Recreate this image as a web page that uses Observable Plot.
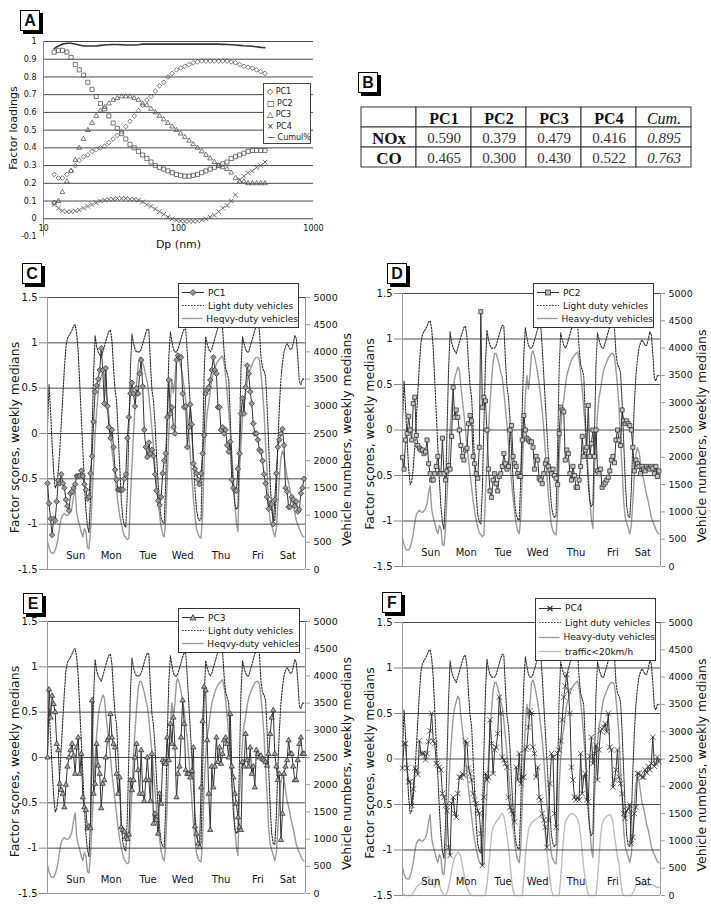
<!DOCTYPE html>
<html><head><meta charset="utf-8">
<script src="https://cdn.jsdelivr.net/npm/d3@7"></script>
<script src="https://cdn.jsdelivr.net/npm/@observablehq/plot@0.6"></script>
<style>
body{margin:0;background:#fff;}
#page{position:relative;width:711px;height:906px;overflow:hidden;font-family:"DejaVu Sans",sans-serif;color:#111;background:#fff;}
.tag{position:absolute;width:18px;height:19px;border:1px solid #000;box-shadow:3px 3px 0 #000;background:#fff;font:bold 16px "Liberation Sans Narrow","Liberation Sans",sans-serif;text-align:center;line-height:19px;}
.legend{position:absolute;background:#fff;border:1px solid #333;font-size:9px;color:#111;box-sizing:border-box;padding-top:2px;}
.legend .row{display:flex;align-items:center;height:13px;white-space:nowrap;}
.legend svg{margin:0 3px 0 2px;}
.legA{position:absolute;background:#fff;border:1px solid #444;font-size:8px;box-sizing:border-box;padding:2px 0 0 3px;}
.legA div{height:11.5px;line-height:11.5px;white-space:nowrap;color:#222;}
</style></head><body><div id="page"></div>
<script>
// ---------------- Panel A data ----------------
const dp = [12.0,12.9,13.8,14.9,16.0,17.2,18.4,19.8,21.3,22.9,24.6,26.4,28.4,30.5,32.8,35.2,37.9,40.7,43.7,47.0,50.5,54.2,58.3,62.6,67.3,72.3,77.7,83.5,89.8,96.5,103.7,111.4,119.7,128.6,138.2,148.6,159.6,171.5,184.3,198.1,212.9,228.8,245.8,264.2,283.9,305.1,327.8,352.3,378.6,406.8,437.1];
const loadPC1 = [0.25,0.23,0.23,0.25,0.27,0.30,0.33,0.35,0.36,0.38,0.39,0.40,0.41,0.43,0.45,0.47,0.49,0.52,0.55,0.58,0.61,0.64,0.67,0.69,0.72,0.75,0.77,0.80,0.82,0.84,0.85,0.86,0.87,0.88,0.885,0.89,0.89,0.89,0.89,0.89,0.89,0.89,0.885,0.88,0.87,0.86,0.855,0.85,0.84,0.83,0.82];
const loadPC2 = [0.94,0.95,0.95,0.94,0.91,0.87,0.84,0.81,0.77,0.73,0.69,0.65,0.62,0.58,0.54,0.51,0.48,0.45,0.42,0.40,0.38,0.36,0.34,0.32,0.30,0.29,0.28,0.27,0.26,0.25,0.245,0.24,0.24,0.245,0.25,0.26,0.27,0.28,0.29,0.30,0.31,0.32,0.34,0.35,0.36,0.37,0.38,0.385,0.385,0.385,0.385];
const loadPC3 = [0.09,0.10,0.15,0.21,0.27,0.33,0.40,0.45,0.50,0.54,0.58,0.61,0.63,0.65,0.67,0.68,0.69,0.69,0.69,0.68,0.67,0.65,0.64,0.62,0.60,0.58,0.56,0.54,0.52,0.50,0.48,0.46,0.44,0.42,0.40,0.38,0.36,0.34,0.32,0.30,0.29,0.28,0.26,0.23,0.21,0.21,0.20,0.20,0.20,0.20,0.20];
const loadPC4 = [0.08,0.06,0.045,0.04,0.04,0.045,0.05,0.06,0.07,0.08,0.09,0.10,0.105,0.11,0.11,0.115,0.115,0.115,0.11,0.11,0.105,0.095,0.08,0.07,0.055,0.04,0.025,0.01,0.0,-0.008,-0.012,-0.015,-0.015,-0.015,-0.012,-0.008,0.0,0.01,0.02,0.04,0.06,0.075,0.10,0.135,0.22,0.24,0.26,0.27,0.29,0.30,0.32];
const loadCum = [0.96,0.975,0.985,0.99,0.99,0.985,0.98,0.975,0.975,0.975,0.975,0.978,0.98,0.982,0.983,0.983,0.982,0.98,0.98,0.98,0.982,0.985,0.985,0.985,0.985,0.985,0.985,0.985,0.985,0.985,0.985,0.985,0.985,0.985,0.985,0.985,0.985,0.985,0.985,0.985,0.984,0.983,0.982,0.98,0.978,0.976,0.975,0.973,0.97,0.967,0.965];
const loadTicks = [-0.1,0,0.1,0.2,0.3,0.4,0.5,0.6,0.7,0.8,0.9,1];
const loadGrid = [0,0.1,0.2,0.3,0.4,0.5,0.6,0.7,0.8,0.9,1];
const dpTicks = [10,100,1000];

// ---------------- Panel B data ----------------
const tblCols = ["PC1","PC2","PC3","PC4","Cum."];
const tblRows = ["NOx","CO"];
const noxVals = [0.590,0.379,0.479,0.416,0.895];
const coVals  = [0.465,0.300,0.430,0.522,0.763];

// ---------------- Weekly series (hourly) ----------------
const ldv = [2600,3400,2900,2300,1800,1500,1550,1800,2200,2700,
3200,3700,4100,4250,4300,4350,4400,4480,4500,4350,
4000,3400,2800,2200,1600,1100,800,680,1300,2500,
3600,4300,4100,4000,3950,3900,4000,4100,4200,4300,
4380,4400,4200,3700,3300,3100,2500,1900,1300,950,
820,780,1400,2600,3700,4330,4150,4050,4000,4000,
4000,4050,4150,4250,4350,4420,4400,3800,3300,3100,
2700,2100,1600,1200,950,870,850,1600,2900,3900,
4370,4200,4050,4000,4000,4050,4150,4250,4350,4420,
4420,4000,3500,3000,2500,2000,1500,1100,950,900,
930,2200,3600,4280,4150,4050,4000,4050,4150,4250,
4350,4450,4500,4520,4450,4000,3700,3600,3500,2800,
2000,1500,1200,1100,1150,2400,3700,4280,4150,4050,
4000,4000,4100,4200,4300,4400,4470,4500,4400,3900,
3700,3650,3550,3000,2300,1600,1100,920,900,1400,
2300,3000,3500,3800,4000,4100,4150,4100,4050,4050,
4150,4300,4250,3900,3450,3400,3500,3500];
const hdv = [520,400,320,300,300,350,450,600,800,950,
1000,1030,1000,990,1020,1060,1150,1350,1480,1050,
900,800,680,600,750,700,400,380,700,1300,
1900,2500,2900,3250,3450,3550,3650,3600,3300,3050,
2800,2500,2200,1950,1700,1450,1200,1000,850,720,
620,580,550,570,1300,1900,2500,3000,3400,3750,
3900,3900,3800,3700,3550,3450,3200,2900,2600,2250,
1900,1550,1250,1000,780,650,600,900,1700,2500,
3100,3500,3250,3500,3900,3950,3850,3700,3550,3350,
3100,2850,2500,2100,1700,1300,1000,750,650,600,
580,1000,2000,2500,2900,3050,3300,3500,3600,3700,
3780,3830,3870,3900,3930,3800,3550,3250,2900,2550,
2100,1700,1200,850,700,1800,2300,2800,3100,3250,
3450,3600,3680,3750,3820,3870,3900,3900,3850,3600,
3300,2900,2300,1800,1200,900,800,700,600,750,
1200,1700,2050,2180,2100,1900,1700,1600,1450,1300,
1200,1050,900,820,750,680,620,600];
const slow = [30,20,0,0,0,0,0,50,100,150,
180,200,220,250,280,300,320,350,300,250,
200,150,250,300,200,100,50,0,0,50,
150,300,450,600,700,750,800,780,700,550,
400,250,150,80,30,0,0,0,0,0,
0,0,0,0,0,200,500,800,1100,1250,
1300,1350,1380,1420,1480,1500,1450,1300,1100,900,
600,300,100,0,0,0,0,0,0,300,
700,1000,1200,1280,1330,1350,1380,1400,1420,1440,
1450,1480,1400,1100,800,580,300,100,0,0,
0,0,0,300,700,1100,1350,1400,1450,1480,
1500,1500,1480,1450,1400,1300,1100,800,500,300,
150,0,0,0,0,0,0,300,700,1100,
1300,1380,1420,1450,1470,1480,1450,1350,1100,900,
700,580,300,50,0,0,0,0,0,0,
50,120,180,200,200,220,200,190,210,200,
180,200,210,190,180,160,150,150];
const pc1 = [-0.55,-0.77,-0.94,-1.12,-0.94,-0.96,-0.75,-0.52,-0.55,-0.45,
-0.55,-0.60,-0.73,-0.80,-0.85,-0.66,-0.64,-0.60,-0.56,-0.47,
-0.47,-0.47,-0.41,-0.47,-0.56,-0.62,-0.72,-0.70,-0.44,-0.25,
0.13,0.46,0.53,0.60,0.70,0.94,0.70,0.33,0.72,0.30,
0.07,-0.05,0.04,-0.15,-0.40,-0.51,-0.62,-0.62,-0.62,-0.62,
-0.50,-0.45,-0.05,0.18,0.44,0.56,0.44,0.30,0.50,0.44,
0.66,0.81,0.52,0.04,-0.15,-0.26,-0.10,-0.22,-0.18,-0.25,
-0.45,-0.63,-0.74,-0.79,-0.70,-0.44,-0.30,-0.22,0.18,0.59,
0.22,0.29,0.07,0.00,0.81,0.86,0.84,0.84,0.44,0.29,
0.30,-0.15,0.07,0.32,0.10,-0.33,-0.39,-0.44,-0.51,-0.56,
-0.44,-0.22,-0.02,0.44,0.48,0.51,0.59,0.70,0.84,0.70,
0.66,0.29,0.29,0.04,0.07,0.00,0.04,-0.13,-0.20,-0.09,
-0.51,-0.60,-0.63,-0.63,-0.39,-0.22,0.22,0.39,0.22,0.51,
0.75,0.66,0.46,0.33,0.11,0.00,0.00,-0.07,-0.18,-0.20,
-0.30,-0.45,-0.55,-0.70,-0.83,-0.77,-0.78,-1.00,-0.73,-0.44,
-0.15,-0.07,0.00,0.05,-0.13,-0.60,-0.64,-0.81,-0.81,-0.70,
-0.73,-0.80,-0.75,-0.86,-0.84,-0.66,-0.60,-0.50];
const pc2 = [-0.30,-0.43,-0.11,-0.04,0.15,0.00,-0.11,0.29,0.36,-0.06,
-0.17,-0.20,-0.22,-0.22,-0.26,-0.24,-0.11,-0.37,-0.48,-0.55,
-0.55,-0.48,-0.40,-0.29,-0.48,-0.48,-0.09,-0.48,-0.55,-0.45,
-0.39,-0.43,-0.07,0.47,0.14,0.22,0.14,0.00,-0.17,-0.29,
-0.33,-0.22,-0.20,0.07,0.16,0.10,-0.29,-0.37,-0.48,-0.53,
-0.19,1.30,0.25,0.36,0.32,0.00,-0.43,-0.67,-0.74,-0.55,
-0.48,-0.59,-0.67,-0.51,-0.48,-0.40,-0.26,-0.37,-0.43,-0.40,
0.00,0.05,-0.29,-0.37,-0.40,-0.48,-0.51,-0.51,-0.11,0.16,
0.00,-0.09,-0.11,-0.13,-0.13,-0.19,-0.43,-0.29,-0.33,-0.53,
-0.55,-0.59,-0.48,-0.37,-0.33,-0.40,-0.44,-0.48,-0.43,-0.50,
-0.53,-0.60,-0.04,0.25,0.22,0.20,-0.33,-0.22,-0.26,-0.48,
-0.55,-0.40,-0.50,-0.63,-0.63,-0.55,-0.40,-0.07,-0.29,-0.22,
-0.19,0.27,-0.29,-0.15,0.00,-0.29,0.00,-0.45,-0.48,-0.43,
-0.63,-0.60,-0.58,-0.55,-0.52,-0.45,-0.33,-0.29,-0.36,-0.11,
0.00,-0.11,-0.17,0.22,0.10,0.07,0.10,0.07,0.05,0.00,
-0.19,-0.45,-0.33,-0.37,-0.40,-0.48,-0.40,-0.43,-0.45,-0.40,
-0.42,-0.43,-0.40,-0.42,-0.48,-0.40,-0.51,-0.45];
const pc3 = [0.00,0.75,0.44,0.68,0.59,0.50,0.15,0.08,-0.29,-0.36,
-0.40,-0.55,-0.30,-0.10,0.00,0.08,0.15,0.02,-0.18,0.11,
0.22,-0.18,0.04,-0.44,-0.55,-0.58,-0.78,-0.76,-0.78,0.63,
-0.40,-0.29,0.15,-0.09,-0.18,-0.56,-0.29,-0.25,0.00,0.19,
0.22,0.48,0.22,0.15,0.11,-0.18,-0.40,-0.22,-0.77,-0.80,
-0.82,-0.88,-0.90,-0.85,-0.25,-0.36,-0.25,0.00,0.15,-0.14,
-0.40,0.08,-0.40,-0.48,-0.25,0.00,-0.25,-0.48,0.04,-0.73,
-0.62,-0.69,-0.84,-0.40,-0.51,-0.03,-0.05,-0.07,0.22,-0.03,
0.37,0.15,0.44,0.11,-0.44,-0.18,-0.10,0.22,0.63,0.37,
-0.14,-0.18,-0.18,-0.22,-0.15,0.11,-0.76,-0.84,-0.95,-0.99,
-0.33,0.40,0.78,0.74,0.19,-0.40,-0.80,-0.10,-0.33,-0.10,
0.22,-0.05,0.11,-0.07,0.04,0.19,0.22,0.15,0.00,0.48,
-0.10,-0.22,-0.40,-0.51,-0.66,-0.77,-0.80,-0.05,-0.10,0.26,
-0.03,-0.10,0.11,-0.18,-0.10,-0.33,0.08,0.04,0.00,0.02,
-0.02,-0.03,-0.05,-0.09,0.04,0.26,0.44,0.52,0.04,-0.10,
-0.25,-0.18,-0.91,-0.62,-0.18,-0.10,-0.03,0.19,0.04,0.04,
-0.10,-0.25,-0.25,-0.03,0.15,0.22,0.04,0.04];
const pc4 = [-0.10,0.17,0.17,-0.10,-0.25,-0.25,-0.51,-0.33,-0.10,-0.12,
-0.17,0.20,0.06,0.06,0.06,-0.01,0.06,0.19,0.31,0.50,
0.20,0.17,-0.05,-0.07,-0.09,-0.12,-0.38,-0.42,-0.51,-0.57,
-0.97,-1.06,-0.49,-0.42,-0.60,-0.64,-0.38,-0.20,-0.20,-0.16,
-0.18,0.20,0.17,-0.10,-0.16,-0.23,-0.38,-0.45,-0.49,-0.57,
-0.60,-0.82,-1.17,-0.42,-0.16,-0.23,-0.20,0.43,0.17,-0.16,
0.10,0.13,0.28,0.68,0.50,0.02,-0.01,-0.05,-0.09,-0.42,
-0.53,-0.57,-0.60,-0.69,-0.09,-0.23,0.06,-0.27,-0.20,-0.20,
0.11,0.13,0.35,0.53,0.50,0.13,0.06,-0.20,-0.09,-0.42,
-0.45,-0.60,-0.67,-0.75,-0.97,-0.67,-0.27,0.06,0.02,-0.60,
-0.75,0.06,0.10,0.20,0.43,0.68,0.80,0.93,0.75,0.50,
-0.09,-0.23,-0.42,-0.45,-0.42,-0.45,0.06,-0.38,-0.20,-0.16,
-0.45,-0.47,0.03,0.24,-0.05,0.06,0.15,-0.23,0.10,0.31,
0.33,0.35,0.39,0.30,0.50,0.13,0.10,-0.31,-0.23,-0.12,
0.10,-0.20,-0.27,-0.38,-0.60,-0.65,-0.57,-0.55,-0.50,-0.93,
-0.86,-0.60,-0.53,-0.16,-0.16,-0.18,-0.20,-0.20,-0.12,-0.15,
-0.08,-0.12,-0.05,0.24,-0.08,-0.05,0.02,-0.03];
const hours = d3.range(168);
const factorTicks = [-1.5,-1,-0.5,0,0.5,1,1.5];
const factorGrid = [-1,-0.5,0,0.5,1,1.5];
const vehTicks = [0,500,1000,1500,2000,2500,3000,3500,4000,4500,5000];
const dayNames = ["Sun","Mon","Tue","Wed","Thu","Fri","Sat"];
const dayPos = [18.4,41.5,65.5,88,113,137,156.5];

// ---------------- helpers ----------------
const page = document.getElementById("page");
function place(el, left, top, w) {
  const d = document.createElement("div");
  d.style.cssText = `position:absolute;left:${left}px;top:${top}px;width:${w}px;`;
  d.appendChild(el); page.appendChild(d); return d;
}
function tag(letter, left, top) {
  const d = document.createElement("div"); d.className = "tag";
  d.style.left = left + "px"; d.style.top = top + "px"; d.textContent = letter; page.appendChild(d);
}
const baseStyle = {fontFamily: "DejaVu Sans", fontSize: "10px", background: "transparent", overflow: "visible", color: "#111"};

// ---------------- Panel A ----------------
const plotA = Plot.plot({
  width: 330, height: 250, marginLeft: 43, marginRight: 17, marginTop: 41, marginBottom: 14,
  x: {type: "log", domain: [10, 1000]},
  y: {domain: [-0.1, 1]},
  style: baseStyle,
  marks: [
    Plot.ruleY(loadGrid, {stroke: "#333", strokeWidth: 0.9}),
    Plot.ruleX([10], {stroke: "#888"}),
    Plot.axisY({ticks: loadTicks, tickSize: 0, tickPadding: 7, tickFormat: d => String(d), label: null, fontSize: 8}),
    Plot.axisX({ticks: dpTicks, tickSize: 0, tickPadding: -11, tickFormat: d => String(d), label: null, fontSize: 8}),
    Plot.text(["Factor loadings"], {frameAnchor: "left", text: d => d, rotate: -90, dx: -30, dy: -11, textAnchor: "middle", lineAnchor: "middle", fontSize: 11}),
    Plot.text(["Dp (nm)"], {frameAnchor: "bottom", text: d => d, dy: 8, lineAnchor: "middle", textAnchor: "middle", fontSize: 11}),
    Plot.line(dp, {x: dp, y: loadCum, stroke: "#333", strokeWidth: 1.6}),
    Plot.dot(dp, {x: dp, y: loadPC1, symbol: "diamond2", r: 2.1, stroke: "#555", strokeWidth: 0.8}),
    Plot.dot(dp, {x: dp, y: loadPC2, symbol: "square2", r: 2.6, stroke: "#555", strokeWidth: 0.8}),
    Plot.dot(dp, {x: dp, y: loadPC3, symbol: "triangle2", r: 2.3, stroke: "#555", strokeWidth: 0.8}),
    Plot.dot(dp, {x: dp, y: loadPC4, symbol: "times", r: 2.2, stroke: "#444", strokeWidth: 0.8})
  ]
});
place(plotA, 0, 0, 330);
const legA = document.createElement("div"); legA.className = "legA";
legA.style.cssText += "left:263px;top:83px;width:48px;height:61px;";
legA.innerHTML = ["◇ PC1","□ PC2","△ PC3","× PC4","— Cumul%"].map(t => `<div>${t}</div>`).join("");
page.appendChild(legA);
tag("A", 20, 10);

// ---------------- Panel B (table) ----------------
const cells = [{c: "_", r: "head", t: ""}];
tblCols.forEach(c => cells.push({c, r: "head", t: c, k: c === "Cum." ? "hi" : "hb"}));
tblRows.forEach((r, ri) => {
  cells.push({c: "_", r, t: r, k: "rb"});
  const vals = ri === 0 ? noxVals : coVals;
  tblCols.forEach((c, ci) => cells.push({c, r, t: d3.format(".3f")(vals[ci]), k: c === "Cum." ? "vi" : "v"}));
});
const plotB = Plot.plot({
  width: 345, height: 68, marginLeft: 4, marginRight: 7, marginTop: 3, marginBottom: 5,
  x: {type: "band", domain: ["_", ...tblCols], padding: 0, axis: null},
  y: {type: "band", domain: ["head", ...tblRows], padding: 0, axis: null},
  style: {...baseStyle, fontFamily: "Liberation Serif"},
  marks: [
    Plot.cell(cells, {x: "c", y: "r", fill: "white", stroke: "#333", inset: 0}),
    Plot.text(cells.filter(d => d.k === "hb"), {x: "c", y: "r", text: "t", fontWeight: "bold", fontSize: 16, dy: 1}),
    Plot.text(cells.filter(d => d.k === "hi"), {x: "c", y: "r", text: "t", fontStyle: "italic", fontSize: 16, dy: 1}),
    Plot.text(cells.filter(d => d.k === "rb"), {x: "c", y: "r", text: "t", fontWeight: "bold", fontSize: 17, dy: 1}),
    Plot.text(cells.filter(d => d.k === "v"), {x: "c", y: "r", text: "t", fontSize: 15, fill: "#333", dy: 1}),
    Plot.text(cells.filter(d => d.k === "vi"), {x: "c", y: "r", text: "t", fontSize: 15, fontStyle: "italic", fill: "#333", dy: 1})
  ]
});
place(plotB, 355, 104, 345);
tag("B", 358, 72);

// ---------------- Panels C-F ----------------
function swatch(kind, sym) {
  let s = `<svg width="24" height="9" viewBox="0 0 24 9">`;
  if (kind === "pc") {
    s += `<line x1="1" y1="4.5" x2="23" y2="4.5" stroke="#333" stroke-width="1"/>`;
    if (sym === "diamond2") s += `<polygon points="12,1.5 15,4.5 12,7.5 9,4.5" fill="#999" stroke="#333" stroke-width="0.8"/>`;
    if (sym === "square2") s += `<rect x="9.5" y="2" width="5" height="5" fill="#bbb" stroke="#333" stroke-width="0.8"/>`;
    if (sym === "triangle2") s += `<polygon points="12,1.5 15,7 9,7" fill="#aaa" stroke="#333" stroke-width="0.8"/>`;
    if (sym === "times") s += `<path d="M9.5,2 L14.5,7 M14.5,2 L9.5,7" stroke="#333" stroke-width="1.1"/>`;
  } else if (kind === "dot") {
    s += `<line x1="1" y1="4.5" x2="23" y2="4.5" stroke="#333" stroke-width="1" stroke-dasharray="1.6,1.4"/>`;
  } else {
    s += `<line x1="1" y1="4.5" x2="23" y2="4.5" stroke="${kind}" stroke-width="1.4"/>`;
  }
  return s + `</svg>`;
}

function panel(cfg) {
  const {left, top, w, mR, mB, pc, sym, fill, r, heavyLabel, traffic, leg} = cfg;
  const common = {width: w, height: 295, marginLeft: 47, marginRight: mR, marginTop: 12, marginBottom: mB,
                  x: {domain: [0, 168], axis: null}, style: baseStyle};
  const veh = Plot.plot({
    ...common,
    y: {domain: [0, 5000]},
    marks: [
      traffic ? Plot.line(hours, {x: hours, y: slow, stroke: "#bdbdbd", strokeWidth: 1.4}) : null,
      Plot.line(hours, {x: hours, y: hdv, stroke: "#9a9a9a", strokeWidth: 1.4}),
      Plot.line(hours, {x: hours, y: ldv, stroke: "#2a2a2a", strokeWidth: 1.1, strokeDasharray: "1.6,1.4"}),
      Plot.ruleX([168], {stroke: "#999"}),
      Plot.axisY({anchor: "right", ticks: vehTicks, tickSize: 4, tickPadding: 4, tickFormat: d => String(d), label: null, stroke: "#999", fontSize: 9.5}),
      Plot.text(["Vehicle numbers, weekly medians"], {frameAnchor: "right", text: d => d, rotate: -90, dx: 41, dy: 6, textAnchor: "middle", lineAnchor: "middle", fontSize: 12.5})
    ]
  });
  const fac = Plot.plot({
    ...common,
    y: {domain: [-1.5, 1.5]},
    marks: [
      Plot.ruleY(factorGrid, {stroke: "#333", strokeWidth: 0.9}),
      Plot.ruleY([-1.5], {stroke: "#999"}),
      Plot.ruleX([0], {stroke: "#999"}),
      Plot.axisY({ticks: factorTicks, tickSize: 8, tickPadding: 2, tickFormat: d => String(d), label: null, stroke: "#888", fontSize: 10}),
      Plot.text(["Factor scores, weekly medians"], {frameAnchor: "left", text: d => d, rotate: -90, dx: -33, dy: 4, textAnchor: "middle", lineAnchor: "middle", fontSize: 12.5}),
      Plot.text(dayNames, {x: dayPos, text: d => d, frameAnchor: "bottom", dy: -14, lineAnchor: "middle", textAnchor: "middle", fontSize: 10}),
      Plot.line(hours, {x: hours, y: pc, stroke: "#333", strokeWidth: 1}),
      Plot.dot(hours, {x: hours, y: pc, symbol: sym, r, fill, stroke: "#333", strokeWidth: 0.8})
    ]
  });
  place(veh, left, top, w);
  place(fac, left, top, w);
  const lg = document.createElement("div"); lg.className = "legend";
  lg.style.cssText += `left:${leg[0]}px;top:${leg[1]}px;width:${leg[2]}px;height:${leg[3]}px;`;
  const rows = [[swatch("pc", sym), cfg.name], [swatch("dot"), "Light duty vehicles"], [swatch("#9a9a9a"), heavyLabel]];
  if (traffic) rows.push([swatch("#bdbdbd"), "traffic<20km/h"]);
  lg.innerHTML = rows.map(([s, t]) => `<div class="row" style="height:${leg[4]}px">${s}<span>${t.replace("<", "&lt;")}</span></div>`).join("");
  page.appendChild(lg);
}

panel({left: 0, top: 285, w: 355, mR: 50, mB: 11, pc: pc1, sym: "diamond2", fill: "#999", r: 2.5, name: "PC1",
       heavyLabel: "Heqvy-duty vehicles", leg: [178, 283, 121, 45, 13]});
panel({left: 355, top: 281, w: 356, mR: 51, mB: 10, pc: pc2, sym: "square2", fill: "#c4c4c4", r: 2.6, name: "PC2",
       heavyLabel: "Heavy-duty vehicles", leg: [533, 283, 121, 45, 13]});
panel({left: 0, top: 609, w: 355, mR: 50, mB: 11, pc: pc3, sym: "triangle2", fill: "#aaa", r: 2.5, name: "PC3",
       heavyLabel: "Heqvy-duty vehicles", leg: [178, 608, 122, 45, 13]});
panel({left: 355, top: 610, w: 356, mR: 51, mB: 10, pc: pc4, sym: "times", fill: "none", r: 2.6, name: "PC4",
       heavyLabel: "Heavy-duty vehicles", traffic: true, leg: [535, 598, 121, 63, 14.5]});
tag("C", 22, 263);
tag("D", 387, 263);
tag("E", 23, 593);
tag("F", 382, 592);
</script></body></html>
